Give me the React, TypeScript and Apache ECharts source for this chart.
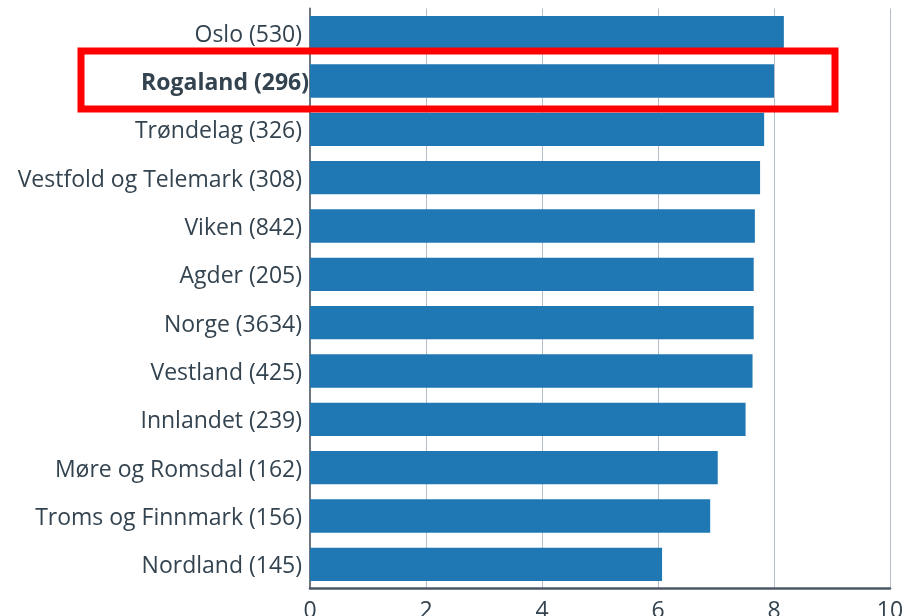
import React, { useEffect, useRef } from "react";
import * as echarts from "echarts";

const categories = [
  "Oslo (530)",
  "Rogaland (296)",
  "Trøndelag (326)",
  "Vestfold og Telemark (308)",
  "Viken (842)",
  "Agder (205)",
  "Norge (3634)",
  "Vestland (425)",
  "Innlandet (239)",
  "Møre og Romsdal (162)",
  "Troms og Finnmark (156)",
  "Nordland (145)",
];
const values = [8.17, 8.0, 7.83, 7.76, 7.67, 7.65, 7.65, 7.63, 7.51, 7.03, 6.9, 6.07];
const highlighted = "Rogaland (296)";
const xTicks = [0, 2, 4, 6, 8, 10];

export default function App() {
  const ref = useRef<HTMLDivElement>(null);
  useEffect(() => {
    if (!ref.current) return;
    const chart = echarts.init(ref.current, undefined, { renderer: "svg" });
    const textColor = "#33434f";
    chart.setOption({
      animation: false,
      grid: {
        left: 310,
        right: 15,
        top: 8.5,
        bottom: 27.5,
        containLabel: false,
        outerBoundsMode: "none",
      },
      xAxis: {
        type: "value",
        min: xTicks[0],
        max: xTicks[xTicks.length - 1],
        interval: 2,
        axisLine: { show: true, lineStyle: { color: "#4b5863", width: 2.5 } },
        axisTick: { show: false },
        splitLine: { show: true, lineStyle: { color: "#b4bec8", width: 1 } },
        axisLabel: {
          color: textColor,
          fontFamily: "Open Sans",
          fontSize: 23,
          margin: 9,
        },
      },
      yAxis: {
        type: "category",
        data: categories,
        inverse: true,
        axisLine: { show: true, lineStyle: { color: "#6b7680", width: 2 } },
        axisTick: { show: false },
        axisLabel: {
          margin: 1,
          formatter: (v: string) => (v === highlighted ? `{b|${v}}` : `{n|${v}}`),
          rich: {
            n: {
              color: textColor,
              fontFamily: "Open Sans",
              fontSize: 23,
              padding: [0, 7, 0, 0],
            },
            b: {
              color: textColor,
              fontFamily: "Open Sans",
              fontSize: 23,
              fontWeight: "bold",
            },
          },
        },
      },
      series: [
        {
          type: "bar",
          data: values,
          barWidth: "69%",
          itemStyle: { color: "#1f77b4" },
        },
      ],
      graphic: [
        {
          type: "rect",
          shape: { x: 81, y: 51, width: 754, height: 58 },
          style: { fill: "none", stroke: "#ff0000", lineWidth: 7 },
          z: 100,
        },
      ],
    });
    return () => chart.dispose();
  }, []);
  return (
    <div
      ref={ref}
      style={{ position: "fixed", left: 0, top: 0, width: 905, height: 616 }}
    />
  );
}
